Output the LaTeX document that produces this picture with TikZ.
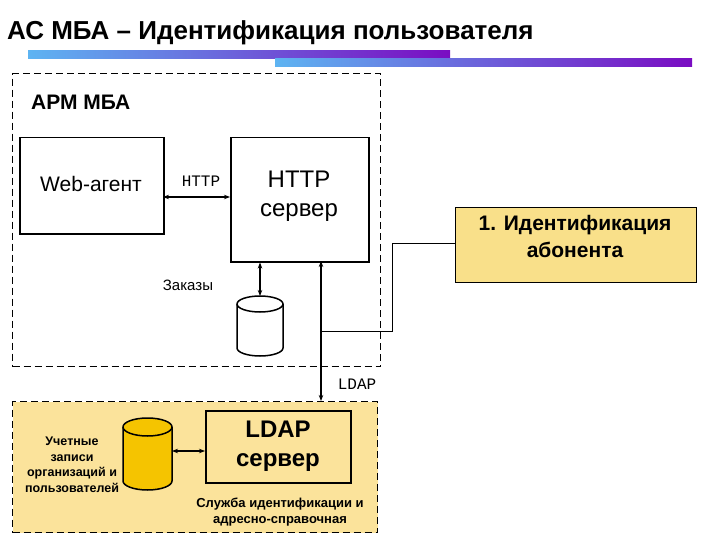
\documentclass[tikz,border=0pt]{standalone}
\usepackage{fontspec}
\setmainfont{Liberation Sans}
\newfontfamily\monof{Liberation Mono}
\usetikzlibrary{shapes.geometric,arrows.meta}
\definecolor{ylw}{HTML}{FBE39B}
\definecolor{ylwb}{HTML}{F9E08A}
\definecolor{cyl}{HTML}{F5C400}
\definecolor{gA}{HTML}{5EB4F2}
\definecolor{gB}{HTML}{7A0CC2}
\begin{document}
\begin{tikzpicture}[x=1pt,y=-1pt,
  box/.style={draw,line width=1.5pt,inner sep=0pt},
  dbox/.style={draw,line width=1.3pt,dash pattern=on 7pt off 4pt},
  arr/.style={{Stealth[length=6pt]}-{Stealth[length=6pt]},line width=1.5pt},
  cyls/.style={line width=1.5pt},
  lbl/.style={font=\fontsize{16}{18}\selectfont\monof}]
\useasboundingbox (0,0) rectangle (720,540);
\node[anchor=west,font=\fontsize{26}{30}\selectfont\bfseries,inner sep=0pt] (title) at (7,33) {АС МБА – Идентификация пользователя};
\shade[left color=gA,right color=gB] (28,51) rectangle (450,59);
\shade[left color=gA,right color=gB] (275,59) rectangle (692,67);
% top dashed box
\node[dbox,minimum width=368,minimum height=293,anchor=north west] (arm) at (12,73) {};
\node[anchor=west,font=\fontsize{21}{24}\selectfont\bfseries,inner sep=0pt] (armt) at (31,102) {АРМ МБА};
\node[box,minimum width=144,minimum height=96,anchor=north west] (web) at (19,137) {};
\node[font=\fontsize{21}{24}\selectfont] (webt) at (91,184) {Web-агент};
\node[box,minimum width=138,minimum height=124,anchor=north west] (http) at (230,137) {};
\node[align=center,font=\fontsize{24}{29}\selectfont] (httpt) at (299,196) {HTTP\\сервер};
\node[lbl] (httpl) at (201,181) {HTTP};
\coordinate (a1) at (163,197);
\coordinate (a2) at (230,197);
\draw[arr] (a1) -- (a2);
\node[font=\fontsize{15}{18}\selectfont] (zak) at (188,285) {Заказы};
% cylinder 1
\coordinate (db1) at (260,296);
\draw[cyls,fill=white] (237,304) -- (237,348) arc[start angle=180,end angle=0,x radius=23,y radius=8] -- (283,304) arc[start angle=0,end angle=-180,x radius=23,y radius=8] -- cycle;
\draw[cyls] (237,304) arc[start angle=180,end angle=0,x radius=23,y radius=8];
\draw[arr,line width=1.2pt] (db1) -- (db1 |- http.south);
% LDAP link
\coordinate (lb) at (321,401);
\draw[arr,line width=2pt] (lb) -- (321,261);
\node[lbl] (ldapl) at (357,384) {LDAP};
% identification callout
\node[draw,line width=1pt,fill=ylwb,minimum width=241,minimum height=75,anchor=north west] (id) at (455,207) {};
\node[align=center,font=\fontsize{21}{27}\selectfont\bfseries] (idt) at (575,236) {1. Идентификация\\абонента};
\draw[line width=0.8pt] (322,331) -- (392,331) -- (392,243) -- (id.west |- 0,243);
% bottom yellow box
\node[dbox,fill=ylw,minimum width=365,minimum height=131,anchor=north west] (ldapbox) at (12,401) {};
\coordinate (db2) at (172,451);
\draw[cyls,fill=cyl] (123,427) -- (123,481) arc[start angle=180,end angle=0,x radius=24.5,y radius=9] -- (172,427) arc[start angle=0,end angle=-180,x radius=24.5,y radius=9] -- cycle;
\draw[cyls] (123,427) arc[start angle=180,end angle=0,x radius=24.5,y radius=9];
\node[box,minimum width=145,minimum height=72,anchor=north west] (ldap) at (205,410) {};
\node[align=center,font=\fontsize{24}{29}\selectfont\bfseries] (ldapt) at (278,446) {LDAP\\сервер};
\draw[arr,line width=1.2pt] (db2) -- (ldap.west |- db2);
\node[align=center,font=\fontsize{12.5}{15.5}\selectfont\bfseries] (uch) at (72,465) {Учетные\\записи\\организаций и\\пользователей};
\node[align=center,font=\fontsize{13}{16}\selectfont\bfseries] (sl) at (280,512) {Служба идентификации и\\адресно-справочная};
\end{tikzpicture}
\end{document}
